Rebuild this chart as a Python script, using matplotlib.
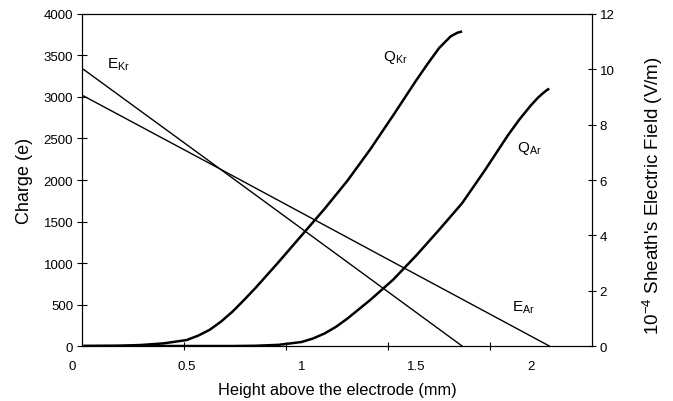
import numpy as np
import matplotlib
matplotlib.use("Agg")
import matplotlib.pyplot as plt

plt.rcParams['font.family'] = ['Liberation Sans', 'DejaVu Sans']
plt.rcParams['mathtext.fontset'] = 'custom'
plt.rcParams['mathtext.rm'] = 'Liberation Sans'
plt.rcParams['mathtext.it'] = 'Liberation Sans:italic'
plt.rcParams['mathtext.default'] = 'regular'

# --------------------------------------------------------------------------
# Data
# --------------------------------------------------------------------------
# charge of the grain (left axis, e)
x_qkr = [0.05, 0.20, 0.30, 0.40, 0.50, 0.55, 0.60, 0.65, 0.70, 0.75, 0.80, 0.90,
         1.00, 1.10, 1.20, 1.30, 1.40, 1.50, 1.55, 1.60, 1.65, 1.68, 1.70]
q_kr = [0, 3, 12, 32, 72, 125, 195, 295, 415, 555, 700, 1010,
        1330, 1650, 1990, 2370, 2780, 3200, 3400, 3590, 3730, 3775, 3790]

x_qar = [0.05, 0.70, 0.80, 0.90, 1.00, 1.05, 1.10, 1.15, 1.20, 1.30, 1.40, 1.50,
         1.60, 1.70, 1.80, 1.90, 1.95, 2.00, 2.03, 2.05, 2.07, 2.08]
q_ar = [0, 0, 3, 14, 48, 90, 150, 230, 330, 555, 800, 1090,
        1400, 1720, 2120, 2540, 2730, 2900, 2990, 3040, 3085, 3100]

# sheath electric field (right axis, 1e-4 V/m)
x_ekr = [0.05, 0.645, 1.10, 1.70]
e_kr = [10.0, 6.4, 3.64, 0.0]
x_ear = [0.05, 0.645, 1.40, 2.08]
e_ar = [9.04, 6.4, 3.03, 0.0]

x_labels = ["0", "0.5", "1", "1.5", "2"]
x_label_pos = [0, 0.5, 1, 1.5, 2]

xlim = (0.0436, 2.266)

# --------------------------------------------------------------------------
# Figure
# --------------------------------------------------------------------------
fig = plt.figure(figsize=(6.73, 4.02), dpi=100)
ax = fig.add_axes([0.1218, 0.1368, 0.7578, 0.8259])
ax2 = ax.twinx()

ax.plot(x_qkr, q_kr, color='black', lw=1.8, solid_capstyle='butt')
ax.plot(x_qar, q_ar, color='black', lw=1.8, solid_capstyle='butt')
ax2.plot(x_ekr, e_kr, color='black', lw=1.0)
ax2.plot(x_ear, e_ar, color='black', lw=1.0)

ax.set_xlim(*xlim)
ax.set_ylim(0, 4000)
ax2.set_ylim(0, 12)
ax.set_yticks(np.arange(0, 4001, 500))
ax2.set_yticks(np.arange(0, 13, 2))

# tick marks split the axis evenly, labels sit on the data scale
ax.set_xticks(np.linspace(xlim[0], xlim[1], 6)[1:-1])
ax.tick_params(axis='x', direction='inout', length=6, width=0.8, labelbottom=False)
ax.tick_params(axis='y', direction='inout', length=6.5, width=0.8, pad=3, labelsize=9.5)
ax2.tick_params(axis='y', direction='inout', length=6, width=0.8, pad=2.5, labelsize=9.5)

for pos, lab in zip(x_label_pos, x_labels):
    ax.text(pos, -0.042, lab, transform=ax.get_xaxis_transform(),
            ha='center', va='top', fontsize=9.5)

for a in (ax, ax2):
    for sp in a.spines.values():
        sp.set_linewidth(0.8)

ax.set_xlabel("Height above the electrode (mm)", fontsize=11.8)
ax.xaxis.set_label_coords(0.5, -0.108)
ax.set_ylabel("Charge (e)", fontsize=13, labelpad=8)
ax2.set_ylabel("10$^{-4}$ Sheath's Electric Field (V/m)", fontsize=13.5)
ax2.yaxis.set_label_coords(1.095, 0.455)

# curve labels
ax.text(0.153, 3398, r'E$_{Kr}$', ha='left', va='center', fontsize=11)
ax.text(1.355, 3482, r'Q$_{Kr}$', ha='left', va='center', fontsize=11)
ax.text(1.939, 2386, r'Q$_{Ar}$', ha='left', va='center', fontsize=11)
ax.text(1.917, 470, r'E$_{Ar}$', ha='left', va='center', fontsize=11)

fig.savefig('out.png', dpi=100)
